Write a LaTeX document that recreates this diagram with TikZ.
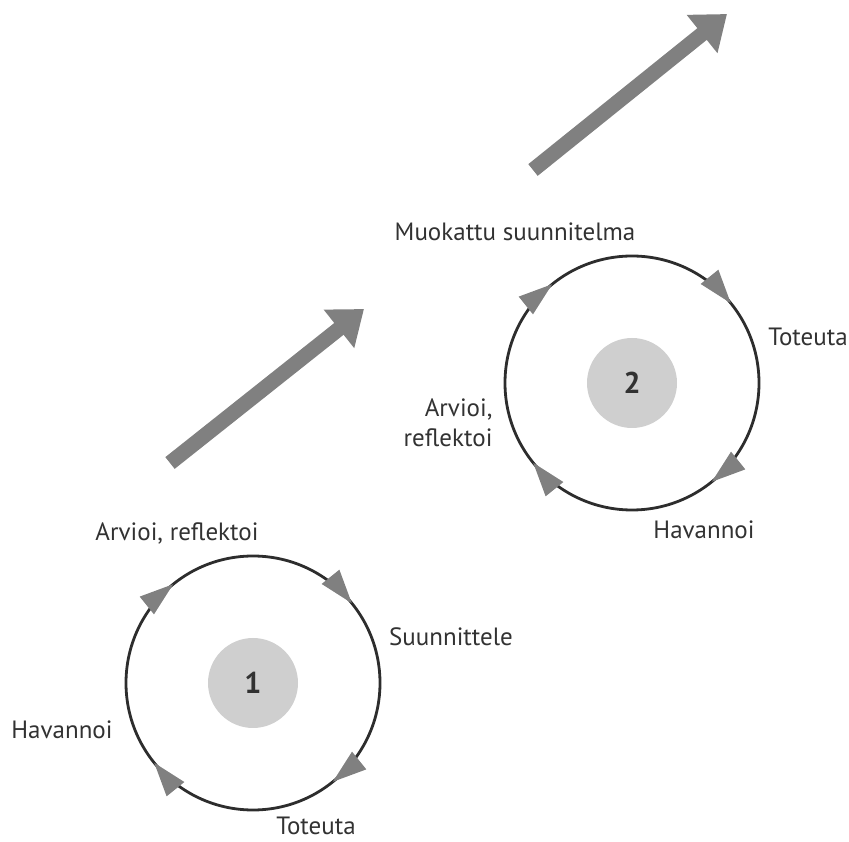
\documentclass[tikz,border=0pt]{standalone}
\usepackage{fontspec}
\setmainfont{PT Sans}
\usetikzlibrary{arrows.meta,decorations.markings}

\definecolor{ringgray}{RGB}{45,45,45}
\definecolor{tipgray}{RGB}{128,128,128}
\definecolor{hubgray}{RGB}{207,207,207}
\definecolor{textgray}{RGB}{50,50,50}

\tikzset{
  hub/.style={circle,fill=hubgray,minimum size=90pt,inner sep=0pt,font=\fontsize{30}{30}\selectfont\bfseries,text=textgray},
  lbl/.style={font=\fontsize{25}{30}\selectfont,text=textgray},
  ringtip/.tip={Triangle[length=34pt,width=22pt,color=tipgray]},
  ring/.style={draw=ringgray,line width=2.8pt,postaction={decorate},
    decoration={markings,
      mark=at position 0.108 with {\arrowreversed{ringtip}},
      mark=at position 0.358 with {\arrowreversed{ringtip}},
      mark=at position 0.608 with {\arrowreversed{ringtip}},
      mark=at position 0.858 with {\arrowreversed{ringtip}}}},
  bigarrow/.style={draw=tipgray,line width=15pt,-{Triangle[length=32pt,width=47pt,color=tipgray]}}
}

\begin{document}
\begin{tikzpicture}[x=1pt,y=1pt]
\useasboundingbox (0,0) rectangle (849,841);

% first round
\node[hub] (c1) at (253,158) {1};
\draw[ring] (c1.center) circle (127);
\node[lbl] (arv1) at (177,308) {Arvioi, reflektoi};
\node[lbl] (suu1) at (451,204) {Suunnittele};
\node[lbl] (hav1) at (62,111) {Havannoi};
\node[lbl] (tot1) at (316,15) {Toteuta};

% second round
\node[hub] (c2) at (632,458) {2};
\draw[ring] (c2.center) circle (127);
\node[lbl] (muo2) at (515,609) {Muokattu suunnitelma};
\node[lbl] (tot2) at (808,504) {Toteuta};
\node[lbl,align=right,anchor=east] (arv2) at (496,418) {Arvioi,\\reflektoi};
\node[lbl] (hav2) at (704,311) {Havannoi};

% progress arrows
\coordinate (t1) at (170,378);
\coordinate (h1) at (364,532);
\coordinate (t2) at (533,671);
\coordinate (h2) at (727,827);
\draw[bigarrow] (t1) -- (h1);
\draw[bigarrow] (t2) -- (h2);
\end{tikzpicture}
\end{document}
